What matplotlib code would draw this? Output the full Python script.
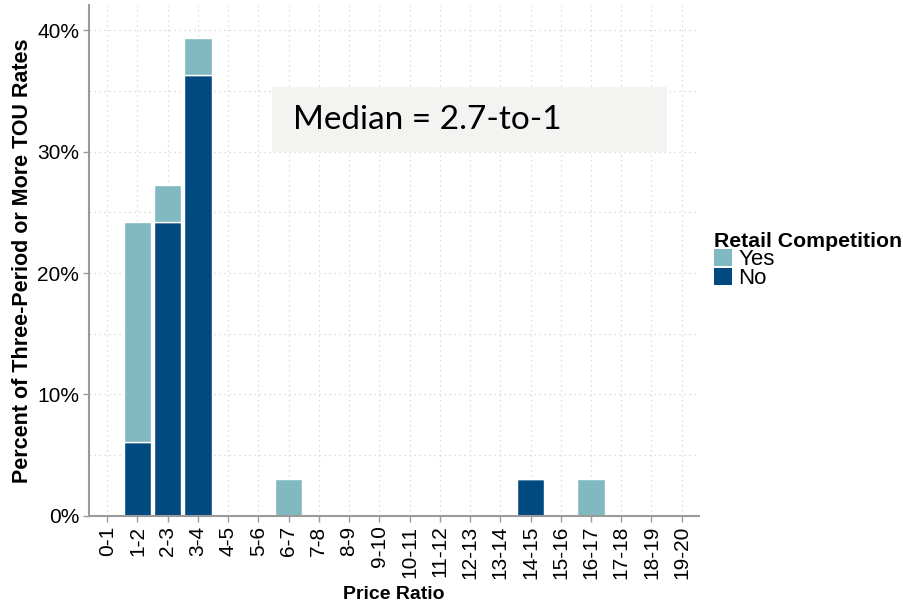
#Three-period TOU rates by price ratio, stacked by retail competition

import numpy as np
import matplotlib
matplotlib.use("Agg")
import matplotlib.pyplot as plt
from matplotlib.patches import Patch, Rectangle

#data (share of rates, in percent)
categories = ["0-1", "1-2", "2-3", "3-4", "4-5", "5-6", "6-7", "7-8", "8-9", "9-10",
              "10-11", "11-12", "12-13", "13-14", "14-15", "15-16", "16-17", "17-18",
              "18-19", "19-20"]
no_values = [0, 6.06, 24.24, 36.36, 0, 0, 0, 0, 0, 0,
             0, 0, 0, 0, 3.03, 0, 0, 0, 0, 0]
yes_values = [0, 18.18, 3.03, 3.03, 0, 0, 3.03, 0, 0, 0,
              0, 0, 0, 0, 0, 0, 3.03, 0, 0, 0]
y_ticks = [0, 10, 20, 30, 40]
y_tick_labels = ["0%", "10%", "20%", "30%", "40%"]

yes_color = "#80B9C1"
no_color = "#014A81"

plt.rcParams['font.family'] = ['Liberation Sans', 'DejaVu Sans']

fig = plt.figure(figsize=(9.04, 6.04), dpi=100)
ax = fig.add_axes([0.0985, 0.146, 0.675, 0.846])

x = np.arange(len(categories))
no_arr = np.array(no_values)
yes_arr = np.array(yes_values)

#stacked bars
ax.bar(x, no_arr, width=0.9, color=no_color, edgecolor="white", linewidth=1, zorder=3)
ax.bar(x, yes_arr, width=0.9, bottom=no_arr, color=yes_color, edgecolor="white",
       linewidth=1, zorder=3)

#axes look
ax.set_xlim(-0.6, 19.58)
ax.set_ylim(0, 42.1)
ax.set_xticks(x)
ax.set_xticklabels(categories, rotation=90, fontsize=15)
ax.set_yticks(y_ticks)
ax.set_yticklabels(y_tick_labels, fontsize=15)
ax.set_yticks(np.arange(5, 45, 10), minor=True)
ax.tick_params(axis="both", colors="#9A9A9A", labelcolor="black", length=4, width=1, pad=3)
ax.tick_params(axis="y", which="minor", length=0)

ax.grid(True, which="both", linestyle=(0, (1, 3)), color="#D3D3D3", linewidth=0.9, zorder=0)
for side in ["top", "right"]:
    ax.spines[side].set_visible(False)
for side in ["left", "bottom"]:
    ax.spines[side].set_color("#9A9A9A")
    ax.spines[side].set_linewidth(1.5)
    ax.spines[side].set_zorder(4)

ax.set_xlabel("Price Ratio", fontsize=14, fontweight="bold", labelpad=5)
ax.set_ylabel("Percent of Three-Period or More TOU Rates", fontsize=15.5, fontweight="bold",
              labelpad=3)

#median box
fig.patches.append(Rectangle((272 / 904, 1 - 152 / 604), 395 / 904, 65 / 604,
                             transform=fig.transFigure, facecolor="#F3F3F2",
                             edgecolor="none", zorder=5))
fig.text(293 / 904, 1 - 120 / 604, "Median = 2.7-to-1", fontsize=24, family="Lato",
         va="center", ha="left", zorder=6)

#legend
handles = [Patch(facecolor=yes_color, edgecolor="none"),
           Patch(facecolor=no_color, edgecolor="none")]
leg = fig.legend(handles, ["Yes", "No"], title="Retail Competition",
                 loc="upper left", bbox_to_anchor=(714 / 904, 1 - 232 / 604),
                 frameon=False, fontsize=16, title_fontproperties={"weight": "bold", "size": 15.3},
                 alignment="left", handlelength=0.8, handleheight=0.8, handletextpad=0.3,
                 labelspacing=-0.1, borderpad=0, borderaxespad=0)

fig.savefig("out.png", dpi=100)
